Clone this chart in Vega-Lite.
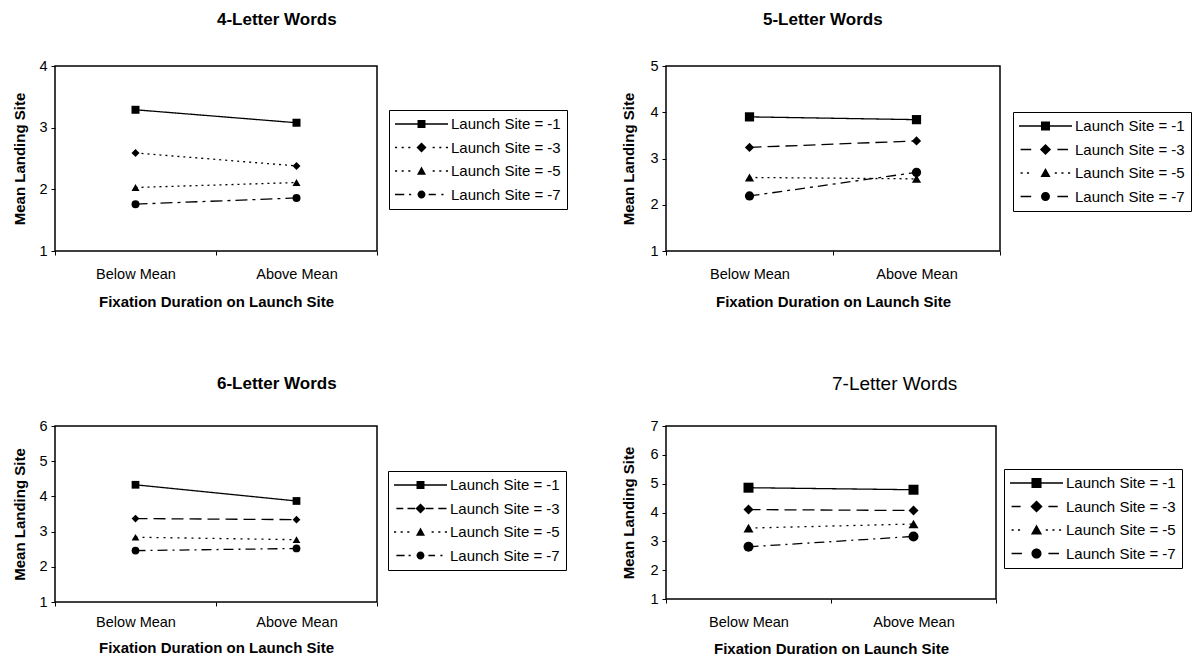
{
  "$schema": "https://vega.github.io/schema/vega-lite/v6.json",
  "padding": {"left": 11, "top": 10, "right": 4, "bottom": 4},
  "background": "white",
  "config": {
    "font": "Liberation Sans",
    "view": {"stroke": "black", "strokeWidth": 1.5},
    "axis": {"labelFont": "Liberation Sans", "labelFontSize": 14.5, "labelColor": "black", "titleFont": "Liberation Sans", "titleFontSize": 15, "titleFontWeight": "bold", "titleColor": "black", "grid": false, "domain": false, "tickColor": "black", "tickSize": 4, "tickWidth": 1},
    "legend": {"orient": "none", "labelFont": "Liberation Sans", "labelFontSize": 15, "labelColor": "black", "symbolSize": 2809, "clipHeight": 16, "rowPadding": 7.5, "padding": 6, "strokeColor": "black", "fillColor": "white", "labelOffset": 3, "symbolStrokeWidth": 0, "symbolFillColor": "black", "labelLimit": 300}
  },
  "datasets": {
    "d": [
      {"panel": "4", "cond": "Below Mean", "series": "Launch Site = -1", "value": 3.29},
      {"panel": "4", "cond": "Above Mean", "series": "Launch Site = -1", "value": 3.08},
      {"panel": "4", "cond": "Below Mean", "series": "Launch Site = -3", "value": 2.59},
      {"panel": "4", "cond": "Above Mean", "series": "Launch Site = -3", "value": 2.38},
      {"panel": "4", "cond": "Below Mean", "series": "Launch Site = -5", "value": 2.03},
      {"panel": "4", "cond": "Above Mean", "series": "Launch Site = -5", "value": 2.11},
      {"panel": "4", "cond": "Below Mean", "series": "Launch Site = -7", "value": 1.76},
      {"panel": "4", "cond": "Above Mean", "series": "Launch Site = -7", "value": 1.86},
      {"panel": "5", "cond": "Below Mean", "series": "Launch Site = -1", "value": 3.90},
      {"panel": "5", "cond": "Above Mean", "series": "Launch Site = -1", "value": 3.84},
      {"panel": "5", "cond": "Below Mean", "series": "Launch Site = -3", "value": 3.24},
      {"panel": "5", "cond": "Above Mean", "series": "Launch Site = -3", "value": 3.38},
      {"panel": "5", "cond": "Below Mean", "series": "Launch Site = -5", "value": 2.59},
      {"panel": "5", "cond": "Above Mean", "series": "Launch Site = -5", "value": 2.56},
      {"panel": "5", "cond": "Below Mean", "series": "Launch Site = -7", "value": 2.19},
      {"panel": "5", "cond": "Above Mean", "series": "Launch Site = -7", "value": 2.70},
      {"panel": "6", "cond": "Below Mean", "series": "Launch Site = -1", "value": 4.33},
      {"panel": "6", "cond": "Above Mean", "series": "Launch Site = -1", "value": 3.87},
      {"panel": "6", "cond": "Below Mean", "series": "Launch Site = -3", "value": 3.37},
      {"panel": "6", "cond": "Above Mean", "series": "Launch Site = -3", "value": 3.34},
      {"panel": "6", "cond": "Below Mean", "series": "Launch Site = -5", "value": 2.84},
      {"panel": "6", "cond": "Above Mean", "series": "Launch Site = -5", "value": 2.77},
      {"panel": "6", "cond": "Below Mean", "series": "Launch Site = -7", "value": 2.46},
      {"panel": "6", "cond": "Above Mean", "series": "Launch Site = -7", "value": 2.52},
      {"panel": "7", "cond": "Below Mean", "series": "Launch Site = -1", "value": 4.86},
      {"panel": "7", "cond": "Above Mean", "series": "Launch Site = -1", "value": 4.79},
      {"panel": "7", "cond": "Below Mean", "series": "Launch Site = -3", "value": 4.10},
      {"panel": "7", "cond": "Above Mean", "series": "Launch Site = -3", "value": 4.07},
      {"panel": "7", "cond": "Below Mean", "series": "Launch Site = -5", "value": 3.46},
      {"panel": "7", "cond": "Above Mean", "series": "Launch Site = -5", "value": 3.60},
      {"panel": "7", "cond": "Below Mean", "series": "Launch Site = -7", "value": 2.81},
      {"panel": "7", "cond": "Above Mean", "series": "Launch Site = -7", "value": 3.17}
    ]
  },
  "data": {"name": "d"},
  "bounds": "flush",
  "columns": 2,
  "spacing": {"row": 175, "column": 289},
  "resolve": {"scale": {"strokeDash": "independent", "shape": "independent"}},
  "concat": [
    {
      "width": 322, "height": 185,
      "title": {"text": "4-Letter Words", "anchor": "start", "frame": "group", "dx": 162, "offset": 16, "baseline": "alphabetic", "fontSize": 17, "fontWeight": "bold", "font": "Liberation Sans", "color": "black"},
      "transform": [{"filter": "datum.panel == '4'"}],
      "encoding": {
        "x": {"field": "cond", "type": "nominal", "sort": ["Below Mean", "Above Mean"], "scale": {"type": "band", "paddingInner": 0, "paddingOuter": 0}, "axis": {"title": "Fixation Duration on Launch Site", "labelAngle": 0, "tickBand": "extent", "labelPadding": 12, "titleY": 50, "titleBaseline": "middle"}},
        "y": {"field": "value", "type": "quantitative", "scale": {"domain": [1, 4], "nice": false}, "axis": {"title": "Mean Landing Site", "values": [1, 2, 3, 4], "labelPadding": 4, "titleX": -36, "titleBaseline": "middle"}}
      },
      "layer": [
        {"mark": {"type": "line", "color": "black", "strokeWidth": 1.3}, "encoding": {"strokeDash": {"field": "series", "type": "nominal", "scale": {"domain": ["Launch Site = -1", "Launch Site = -3", "Launch Site = -5", "Launch Site = -7"], "range": [[1, 0], [2, 4], [2, 4], [12, 5, 3, 5]]}, "legend": null}}},
        {"mark": {"type": "point", "filled": true, "opacity": 1, "color": "black", "size": 64}, "encoding": {"shape": {"field": "series", "type": "nominal", "scale": {"domain": ["Launch Site = -1", "Launch Site = -3", "Launch Site = -5", "Launch Site = -7"], "range": ["square", "diamond", "triangle-up", "circle"]}, "legend": null}}},
        {"transform": [{"filter": "false"}], "mark": {"type": "point", "filled": true, "opacity": 1, "color": "black"}, "encoding": {"shape": {"field": "series", "type": "nominal", "scale": {"domain": ["Launch Site = -1", "Launch Site = -3", "Launch Site = -5", "Launch Site = -7"], "range": [
          "M-1,-0.025H1V0.025H-1ZM-0.15,-0.15H0.15V0.15H-0.15Z",
          "M-1,-0.03H-0.92V0.03H-1ZM-0.75,-0.03H-0.67V0.03H-0.75ZM-0.5,-0.03H-0.42V0.03H-0.5ZM0.42,-0.03H0.5V0.03H0.42ZM0.67,-0.03H0.75V0.03H0.67ZM0.92,-0.03H1V0.03H0.92ZM0,-0.19L0.19,0L0,0.19L-0.19,0Z",
          "M-1,-0.03H-0.92V0.03H-1ZM-0.75,-0.03H-0.67V0.03H-0.75ZM-0.5,-0.03H-0.42V0.03H-0.5ZM0.42,-0.03H0.5V0.03H0.42ZM0.67,-0.03H0.75V0.03H0.67ZM0.92,-0.03H1V0.03H0.92ZM0,-0.17L0.17,0.14H-0.17Z",
          "M-1,-0.03H-0.65V0.03H-1ZM-0.47,-0.03H-0.39V0.03H-0.47ZM0.27,-0.03H0.54V0.03H0.27ZM0.75,-0.03H0.83V0.03H0.75ZM-0.15,0A0.15,0.15 0 1 0 0.15,0A0.15,0.15 0 1 0 -0.15,0Z"
        ]}, "legend": {"title": null, "legendX": 334, "legendY": 44}}}}
      ],
      "resolve": {"scale": {"shape": "independent"}}
    },
    {
      "width": 334, "height": 185,
      "title": {"text": "5-Letter Words", "anchor": "start", "frame": "group", "dx": 97, "offset": 16, "baseline": "alphabetic", "fontSize": 17, "fontWeight": "bold", "font": "Liberation Sans", "color": "black"},
      "transform": [{"filter": "datum.panel == '5'"}],
      "encoding": {
        "x": {"field": "cond", "type": "nominal", "sort": ["Below Mean", "Above Mean"], "scale": {"type": "band", "paddingInner": 0, "paddingOuter": 0}, "axis": {"title": "Fixation Duration on Launch Site", "labelAngle": 0, "tickBand": "extent", "labelPadding": 12, "titleY": 50, "titleBaseline": "middle"}},
        "y": {"field": "value", "type": "quantitative", "scale": {"domain": [1, 5], "nice": false}, "axis": {"title": "Mean Landing Site", "values": [1, 2, 3, 4, 5], "labelPadding": 4, "titleX": -38, "titleBaseline": "middle"}}
      },
      "layer": [
        {"mark": {"type": "line", "color": "black", "strokeWidth": 1.3}, "encoding": {"strokeDash": {"field": "series", "type": "nominal", "scale": {"domain": ["Launch Site = -1", "Launch Site = -3", "Launch Site = -5", "Launch Site = -7"], "range": [[1, 0], [12, 6], [2, 4], [10, 5, 3, 5]]}, "legend": null}}},
        {"mark": {"type": "point", "filled": true, "opacity": 1, "color": "black", "size": 85}, "encoding": {"shape": {"field": "series", "type": "nominal", "scale": {"domain": ["Launch Site = -1", "Launch Site = -3", "Launch Site = -5", "Launch Site = -7"], "range": ["square", "diamond", "triangle-up", "circle"]}, "legend": null}}},
        {"transform": [{"filter": "false"}], "mark": {"type": "point", "filled": true, "opacity": 1, "color": "black"}, "encoding": {"shape": {"field": "series", "type": "nominal", "scale": {"domain": ["Launch Site = -1", "Launch Site = -3", "Launch Site = -5", "Launch Site = -7"], "range": [
          "M-1,-0.025H1V0.025H-1ZM-0.17,-0.17H0.17V0.17H-0.17Z",
          "M-0.94,-0.03H-0.54V0.03H-0.94ZM0.45,-0.03H0.85V0.03H0.45ZM0,-0.21L0.21,0L0,0.21L-0.21,0Z",
          "M-0.94,-0.03H-0.86V0.03H-0.94ZM-0.7,-0.03H-0.62V0.03H-0.7ZM0.35,-0.03H0.43V0.03H0.35ZM0.6,-0.03H0.68V0.03H0.6ZM0.85,-0.03H0.93V0.03H0.85ZM0,-0.19L0.19,0.15H-0.19Z",
          "M-0.94,-0.03H-0.54V0.03H-0.94ZM0.45,-0.03H0.85V0.03H0.45ZM-0.17,0A0.17,0.17 0 1 0 0.17,0A0.17,0.17 0 1 0 -0.17,0Z"
        ]}, "legend": {"title": null, "legendX": 347, "legendY": 46}}}}
      ],
      "resolve": {"scale": {"shape": "independent"}}
    },
    {
      "width": 322, "height": 176,
      "title": {"text": "6-Letter Words", "anchor": "start", "frame": "group", "dx": 162, "offset": 12, "baseline": "alphabetic", "fontSize": 17, "fontWeight": "bold", "font": "Liberation Sans", "color": "black"},
      "transform": [{"filter": "datum.panel == '6'"}],
      "encoding": {
        "x": {"field": "cond", "type": "nominal", "sort": ["Below Mean", "Above Mean"], "scale": {"type": "band", "paddingInner": 0, "paddingOuter": 0}, "axis": {"title": "Fixation Duration on Launch Site", "labelAngle": 0, "tickBand": "extent", "labelPadding": 9, "titleY": 45, "titleBaseline": "middle"}},
        "y": {"field": "value", "type": "quantitative", "scale": {"domain": [1, 6], "nice": false}, "axis": {"title": "Mean Landing Site", "values": [1, 2, 3, 4, 5, 6], "labelPadding": 4, "titleX": -36, "titleBaseline": "middle"}}
      },
      "layer": [
        {"mark": {"type": "line", "color": "black", "strokeWidth": 1.3}, "encoding": {"strokeDash": {"field": "series", "type": "nominal", "scale": {"domain": ["Launch Site = -1", "Launch Site = -3", "Launch Site = -5", "Launch Site = -7"], "range": [[1, 0], [12, 6], [2, 5], [10, 5, 2, 5]]}, "legend": null}}},
        {"mark": {"type": "point", "filled": true, "opacity": 1, "color": "black", "size": 60}, "encoding": {"shape": {"field": "series", "type": "nominal", "scale": {"domain": ["Launch Site = -1", "Launch Site = -3", "Launch Site = -5", "Launch Site = -7"], "range": ["square", "diamond", "triangle-up", "circle"]}, "legend": null}}},
        {"transform": [{"filter": "false"}], "mark": {"type": "point", "filled": true, "opacity": 1, "color": "black"}, "encoding": {"shape": {"field": "series", "type": "nominal", "scale": {"domain": ["Launch Site = -1", "Launch Site = -3", "Launch Site = -5", "Launch Site = -7"], "range": [
          "M-1,-0.025H1V0.025H-1ZM-0.15,-0.15H0.15V0.15H-0.15Z",
          "M-0.91,-0.03H-0.65V0.03H-0.91ZM-0.49,-0.03H-0.2V0.03H-0.49ZM0.2,-0.03H0.49V0.03H0.2ZM0.67,-0.03H0.98V0.03H0.67ZM0,-0.19L0.19,0L0,0.19L-0.19,0Z",
          "M-1,-0.03H-0.92V0.03H-1ZM-0.75,-0.03H-0.67V0.03H-0.75ZM-0.5,-0.03H-0.42V0.03H-0.5ZM0.42,-0.03H0.5V0.03H0.42ZM0.67,-0.03H0.75V0.03H0.67ZM0.92,-0.03H1V0.03H0.92ZM0,-0.17L0.17,0.14H-0.17Z",
          "M-0.91,-0.03H-0.6V0.03H-0.91ZM-0.45,-0.03H-0.37V0.03H-0.45ZM0.3,-0.03H0.55V0.03H0.3ZM0.75,-0.03H0.83V0.03H0.75ZM-0.15,0A0.15,0.15 0 1 0 0.15,0A0.15,0.15 0 1 0 -0.15,0Z"
        ]}, "legend": {"title": null, "legendX": 333, "legendY": 45}}}}
      ],
      "resolve": {"scale": {"shape": "independent"}}
    },
    {
      "width": 330, "height": 173,
      "title": {"text": "7-Letter Words", "anchor": "start", "frame": "group", "dx": 166, "offset": 9, "baseline": "alphabetic", "fontSize": 19, "fontWeight": "normal", "font": "Liberation Sans", "color": "black"},
      "transform": [{"filter": "datum.panel == '7'"}],
      "encoding": {
        "x": {"field": "cond", "type": "nominal", "sort": ["Below Mean", "Above Mean"], "scale": {"type": "band", "paddingInner": 0, "paddingOuter": 0}, "axis": {"title": "Fixation Duration on Launch Site", "labelAngle": 0, "tickBand": "extent", "labelPadding": 12, "titleY": 49, "titleBaseline": "middle"}},
        "y": {"field": "value", "type": "quantitative", "scale": {"domain": [1, 7], "nice": false}, "axis": {"title": "Mean Landing Site", "values": [1, 2, 3, 4, 5, 6, 7], "labelPadding": 4, "titleX": -38, "titleBaseline": "middle"}}
      },
      "layer": [
        {"mark": {"type": "line", "color": "black", "strokeWidth": 1.3}, "encoding": {"strokeDash": {"field": "series", "type": "nominal", "scale": {"domain": ["Launch Site = -1", "Launch Site = -3", "Launch Site = -5", "Launch Site = -7"], "range": [[1, 0], [12, 6], [2, 5], [10, 5, 2, 5]]}, "legend": null}}},
        {"mark": {"type": "point", "filled": true, "opacity": 1, "color": "black", "size": 100}, "encoding": {"shape": {"field": "series", "type": "nominal", "scale": {"domain": ["Launch Site = -1", "Launch Site = -3", "Launch Site = -5", "Launch Site = -7"], "range": ["square", "diamond", "triangle-up", "circle"]}, "legend": null}}},
        {"transform": [{"filter": "false"}], "mark": {"type": "point", "filled": true, "opacity": 1, "color": "black"}, "encoding": {"shape": {"field": "series", "type": "nominal", "scale": {"domain": ["Launch Site = -1", "Launch Site = -3", "Launch Site = -5", "Launch Site = -7"], "range": [
          "M-1,-0.025H1V0.025H-1ZM-0.19,-0.19H0.19V0.19H-0.19Z",
          "M-0.94,-0.03H-0.6V0.03H-0.94ZM0.45,-0.03H0.8V0.03H0.45ZM0,-0.23L0.23,0L0,0.23L-0.23,0Z",
          "M-0.94,-0.03H-0.86V0.03H-0.94ZM-0.7,-0.03H-0.62V0.03H-0.7ZM0.35,-0.03H0.43V0.03H0.35ZM0.6,-0.03H0.68V0.03H0.6ZM0.85,-0.03H0.93V0.03H0.85ZM0,-0.21L0.21,0.17H-0.21Z",
          "M-0.94,-0.03H-0.55V0.03H-0.94ZM0.45,-0.03H0.85V0.03H0.45ZM-0.19,0A0.19,0.19 0 1 0 0.19,0A0.19,0.19 0 1 0 -0.19,0Z"
        ]}, "legend": {"title": null, "legendX": 338, "legendY": 43}}}}
      ],
      "resolve": {"scale": {"shape": "independent"}}
    }
  ]
}
